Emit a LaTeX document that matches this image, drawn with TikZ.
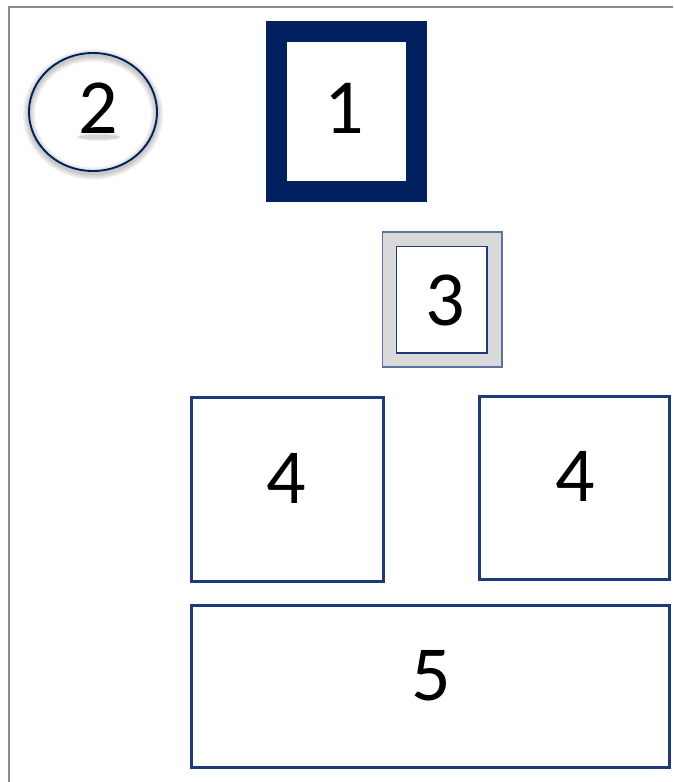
\documentclass[tikz,border=0pt]{standalone}
\usepackage{fontspec}
\setmainfont{Carlito}
\usetikzlibrary{shapes.geometric}
\definecolor{navy}{HTML}{002060}
\definecolor{boxblue}{HTML}{1F3A78}
\definecolor{slate}{HTML}{5C719E}
\definecolor{lightgray}{HTML}{D9D9D9}
\definecolor{frame}{HTML}{8C8C8C}
\tikzset{
  digit/.style={font=\fontsize{78}{80}\selectfont, inner sep=0pt, text=black},
  plainbox/.style={draw=boxblue, line width=3pt, rectangle, inner sep=0pt, fill=white},
  glow/.style={draw=black, draw opacity=0.06},
  softfill/.style={fill=black, fill opacity=0.06},
}
\begin{document}
\begin{tikzpicture}[x=1pt,y=-1pt]
\useasboundingbox (0,0) rectangle (673,782);
% frame lines
\draw[frame, line width=2pt] (8.5,782) -- (8.5,6.5) -- (673,6.5);
% box 1
\node[draw=navy, line width=21pt, rectangle, inner sep=0pt, minimum width=140.5pt, minimum height=160pt] (b1) at (346.25,111) {};
\node[digit] (t1) at (344,108) {1};
% circle 2 with soft glow
\foreach \w in {12,9,6,3} {
  \draw[glow, line width=\w pt] (93,114.5) ellipse [x radius=64pt, y radius=59pt];
}
\foreach \r in {4,3,2} {
  \fill[softfill] (99,137) ellipse [x radius=18pt+\r pt, y radius=\r pt];
}
\node[draw=navy, line width=1.9pt, ellipse, inner sep=0pt, minimum width=128pt, minimum height=118pt] (c2) at (93,112) {};
\node[digit] (t2) at (98,108) {2};
% box 3
\node[draw=slate, line width=1.5pt, fill=lightgray, rectangle, inner sep=0pt, minimum width=119.5pt, minimum height=135pt] (b3o) at (442.25,299.5) {};
\node[draw=boxblue, line width=1.5pt, fill=white, rectangle, inner sep=0pt, minimum width=90.5pt, minimum height=106.5pt] (b3i) at (441.75,299.75) {};
\node[digit] (t3) at (445,300) {3};
% boxes 4
\node[plainbox, minimum width=192pt, minimum height=184pt] (b4l) at (287.5,489.5) {};
\node[digit] (t4l) at (286,478) {4};
\node[plainbox, minimum width=190pt, minimum height=183pt] (b4r) at (574.5,488) {};
\node[digit] (t4r) at (575,476) {4};
% box 5
\node[plainbox, minimum width=478pt, minimum height=162pt] (b5) at (430.5,686.5) {};
\node[digit] (t5) at (431,676) {5};
\end{tikzpicture}
\end{document}
